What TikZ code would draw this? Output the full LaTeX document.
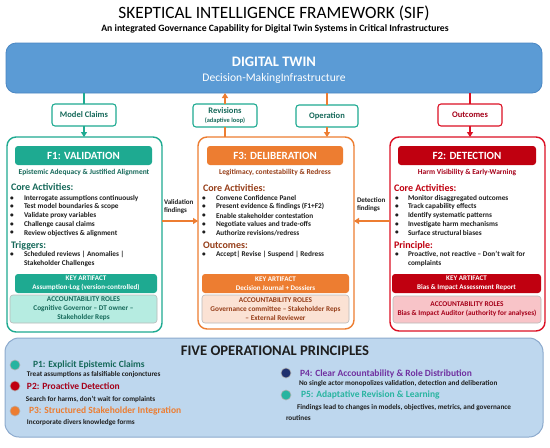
\documentclass[tikz,border=0pt]{standalone}
\usepackage{fontspec}
\setmainfont{Carlito}
\usetikzlibrary{arrows.meta}
\definecolor{dtblue}{RGB}{91,155,213}
\definecolor{dtborder}{RGB}{75,135,195}
\definecolor{teal1}{RGB}{30,170,145}
\definecolor{tealdk}{RGB}{22,105,90}
\definecolor{teallt}{RGB}{182,236,225}
\definecolor{orng}{RGB}{237,125,49}
\definecolor{orngdk}{RGB}{150,62,25}
\definecolor{ornglt}{RGB}{251,226,212}
\definecolor{redb}{RGB}{220,16,36}
\definecolor{redh}{RGB}{192,0,16}
\definecolor{reddk}{RGB}{165,0,25}
\definecolor{redlt}{RGB}{248,196,200}
\definecolor{panel}{RGB}{190,215,238}
\definecolor{panelb}{RGB}{140,170,205}
\definecolor{txt}{RGB}{30,30,30}
\definecolor{purp}{RGB}{112,48,160}
\definecolor{navy}{RGB}{31,48,110}
\definecolor{teal2}{RGB}{40,180,160}
\newcommand{\myfs}[2]{\fontsize{#1}{#2}\selectfont}
\begin{document}
\begin{tikzpicture}[x=1pt,y=-1pt,
  every node/.style={inner sep=0pt, outer sep=0pt},
  frame/.style={draw, fill=white, rounded corners=9pt, line width=1.4pt, anchor=north west},
  bar/.style={rounded corners=3pt, text=white, font=\myfs{11}{13}\bfseries, anchor=north west},
  lbl/.style={draw, fill=white, rounded corners=3pt, line width=1.1pt, font=\myfs{8.5}{10}\bfseries, align=center, text=tealdk},
  sub/.style={font=\myfs{7.5}{9}\bfseries},
  sec/.style={anchor=west, font=\myfs{10}{12}\bfseries},
  bl/.style={anchor=west, font=\myfs{7.3}{8.7}\bfseries, text=txt},
  dotc/.style={font=\myfs{7.3}{8.7}\bfseries, text=txt},
  art/.style={rounded corners=3pt, text=white, font=\myfs{7.1}{9}\bfseries, align=center, anchor=north west},
  acc/.style={draw=gray!55, line width=0.6pt, rounded corners=3pt, font=\myfs{7.3}{9}\bfseries, align=center, anchor=north west},
  conn/.style={line width=1.6pt},
  arr/.style={line width=1.6pt, -{Triangle[length=5pt,width=6pt]}},
  pc/.style={circle, draw=gray!60, line width=0.6pt, minimum size=10pt},
  pt/.style={anchor=west, font=\myfs{9.5}{11}\bfseries},
  pd/.style={anchor=west, font=\myfs{7.2}{8}\bfseries, text=txt}
]
\useasboundingbox (0,0) rectangle (550,448);
\fill[white] (0,0) rectangle (550,448);

% title
\node[font=\myfs{17.3}{20}] (title) at (274,13) {SKEPTICAL INTELLIGENCE FRAMEWORK (SIF)};
\node[font=\myfs{9.7}{11}\bfseries] (subtitle) at (275,29) {An integrated Governance Capability for Digital Twin Systems in Critical Infrastructures};

% digital twin
\node[draw=dtborder, fill=dtblue, rounded corners=10pt, line width=0.8pt, minimum width=536pt, minimum height=50pt, anchor=north west] (DT) at (6,43) {};
\node[font=\myfs{14.5}{16}\bfseries, text=white] (dtt) at (274,62) {DIGITAL TWIN};
\node[font=\myfs{11.6}{14}, text=white] (dts) at (274,78) {Decision-MakingInfrastructure};

% frames
\node[frame, draw=teal1, minimum width=155pt, minimum height=195pt] (F1) at (7,137) {};
\node[frame, draw=orng, minimum width=156pt, minimum height=192pt] (F3) at (198,137) {};
\node[frame, draw=redb, minimum width=155pt, minimum height=194pt] (F2) at (390,137) {};

% connector labels
\node[lbl, draw=teal1, minimum width=64pt, minimum height=22pt] (mc) at (84,115) {Model Claims};
\node[lbl, draw=teal1, minimum width=64pt, minimum height=23pt] (rev) at (225,115.5) {Revisions\\[-1pt]{\myfs{6.4}{8}(adaptive loop)}};
\node[lbl, draw=teal1, minimum width=62pt, minimum height=22pt] (op) at (327,116) {Operation};
\node[lbl, draw=redb, text=reddk, minimum width=64pt, minimum height=22pt] (out) at (470,115) {Outcomes};

\draw[conn, teal1] (DT.south -| mc.north) -- (mc.north);
\draw[arr, teal1] (mc.south) -- (mc.south |- F1.north);
\draw[conn, orng] (rev.south |- F3.north) -- (rev.south);
\draw[arr, orng] (rev.north) -- (rev.north |- DT.south);
\draw[conn, orng] (DT.south -| op.north) -- (op.north);
\draw[arr, orng] (op.south) -- (op.south |- F3.north);
\draw[conn, redb] (DT.south -| out.north) -- (out.north);
\draw[arr, redb] (out.south) -- (out.south |- F2.north);

% side arrows
\coordinate (fy) at (275,221);
\draw[arr, orng] (F1.east |- fy) -- (F3.west |- fy);
\draw[arr, orng] (F2.west |- fy) -- (F3.east |- fy);
\node[anchor=west, font=\myfs{7}{8}\bfseries, align=left, text=txt] (vfl) at (164,207) {Validation\\findings};
\node[anchor=west, font=\myfs{7}{8}\bfseries, align=left, text=txt] (dfl) at (357,205) {Detection\\findings};

% ---------- F1 ----------
\node[bar, fill=teal1, minimum width=137pt, minimum height=19pt] (F1h) at (15,146) {F1: VALIDATION};
\node[sub, text=tealdk] (F1s) at (84,172) {Epistemic Adequacy \& Justified Alignment};
\node[sec, text=tealdk] (F1c) at (11,187) {Core Activities:};
\node[dotc] (F1d1) at (12,198.3) {•}; \node[bl] (F1b1) at (24,198.3) {Interrogate assumptions continuously};
\node[dotc] (F1d2) at (12,206.8) {•}; \node[bl] (F1b2) at (24,206.8) {Test model boundaries \& scope};
\node[dotc] (F1d3) at (12,215.6) {•}; \node[bl] (F1b3) at (24,215.6) {Validate proxy variables};
\node[dotc] (F1d4) at (12,224.3) {•}; \node[bl] (F1b4) at (24,224.3) {Challenge causal claims};
\node[dotc] (F1d5) at (12,233.2) {•}; \node[bl] (F1b5) at (24,233.2) {Review objectives \& alignment};
\node[sec, text=tealdk] (F1t) at (11,245.5) {Triggers:};
\node[dotc] (F1d6) at (12,254.3) {•}; \node[bl] (F1b6) at (24,254.3) {Scheduled reviews | Anomalies |};
\node[bl] (F1b7) at (24,263.2) {Stakeholder Challenges};
\node[art, fill=teal1, minimum width=142pt, minimum height=19pt] (F1a) at (15,274) {KEY ARTIFACT\\Assumption-Log (version-controlled)};
\node[acc, fill=teallt, text=tealdk, minimum width=147pt, minimum height=28pt] (F1r) at (10,295) {ACCOUNTABILITY ROLES\\Cognitive Governor – DT owner –\\Stakeholder Reps};

% ---------- F3 ----------
\node[bar, fill=orng, minimum width=136pt, minimum height=19pt] (F3h) at (207,146) {F3: DELIBERATION};
\node[sub, text=orngdk] (F3s) at (275,172) {Legitimacy, contestability \& Redress};
\node[sec, text=orngdk] (F3c) at (203,188) {Core Activities:};
\node[dotc] (F3d1) at (204,198.3) {•}; \node[bl] (F3b1) at (216,198.3) {Convene Confidence Panel};
\node[dotc] (F3d2) at (204,206.8) {•}; \node[bl] (F3b2) at (216,206.8) {Present evidence \& findings (F1+F2)};
\node[dotc] (F3d3) at (204,215.6) {•}; \node[bl] (F3b3) at (216,215.6) {Enable stakeholder contestation};
\node[dotc] (F3d4) at (204,224.3) {•}; \node[bl] (F3b4) at (216,224.3) {Negotiate values and trade-offs};
\node[dotc] (F3d5) at (204,233.2) {•}; \node[bl] (F3b5) at (216,233.2) {Authorize revisions/redress};
\node[sec, text=orngdk] (F3o) at (203,245.5) {Outcomes:};
\node[dotc] (F3d6) at (204,254.3) {•}; \node[bl] (F3b6) at (216,254.3) {Accept| Revise | Suspend | Redress};
\node[art, fill=orng, minimum width=147pt, minimum height=19pt] (F3a) at (202,274) {KEY ARTIFACT\\Decision Journal + Dossiers};
\node[acc, fill=ornglt, text=orngdk, minimum width=147pt, minimum height=28pt] (F3r) at (202,295) {ACCOUNTABILITY ROLES\\Governance committee – Stakeholder Reps\\– External Reviewer};

% ---------- F2 ----------
\node[bar, fill=redh, minimum width=138pt, minimum height=19pt] (F2h) at (398,146) {F2: DETECTION};
\node[sub, text=reddk] (F2s) at (467,172) {Harm Visibility \& Early-Warning};
\node[sec, text=redh] (F2c) at (394,188) {Core Activities:};
\node[dotc] (F2d1) at (397,198.3) {•}; \node[bl] (F2b1) at (408,198.3) {Monitor disaggregated outcomes};
\node[dotc] (F2d2) at (397,206.8) {•}; \node[bl] (F2b2) at (408,206.8) {Track capability effects};
\node[dotc] (F2d3) at (397,215.6) {•}; \node[bl] (F2b3) at (408,215.6) {Identify systematic patterns};
\node[dotc] (F2d4) at (397,224.3) {•}; \node[bl] (F2b4) at (408,224.3) {Investigate harm mechanisms};
\node[dotc] (F2d5) at (397,233.2) {•}; \node[bl] (F2b5) at (408,233.2) {Surface structural biases};
\node[sec, text=redh] (F2p) at (394,245.5) {Principle:};
\node[dotc] (F2d6) at (397,254.3) {•}; \node[bl] (F2b6) at (408,254.3) {Proactive, not reactive – Don’t wait for};
\node[bl] (F2b7) at (408,263.2) {complaints};
\node[art, fill=redh, minimum width=149pt, minimum height=19pt] (F2a) at (392,274) {KEY ARTIFACT\\Bias \& Impact Assessment Report};
\node[acc, fill=redlt, text=reddk, minimum width=148pt, minimum height=27pt] (F2r) at (393,296) {ACCOUNTABILITY ROLES\\Bias \& Impact Auditor (authority for analyses)};

% ---------- principles panel ----------
\node[draw=panelb, fill=panel, rounded corners=14pt, line width=1pt, minimum width=538pt, minimum height=99pt, anchor=north west] (PP) at (5,338) {};
\node[font=\myfs{14.6}{16}\bfseries, text=txt] (PPt) at (275,351) {FIVE OPERATIONAL PRINCIPLES};

\node[pc, fill=teal2] (c1) at (15,365) {};
\node[pt, text=tealdk] (p1) at (33,365) {P1: Explicit Epistemic Claims};
\node[pd] (p1d) at (27,375) {Treat assumptions as falsifiable conjonctures};
\node[pc, fill=redh] (c2) at (15,386) {};
\node[pt, text=reddk] (p2) at (27,386.5) {P2: Proactive Detection};
\node[pd] (p2d) at (26,399) {Search for harms, don’t wait for complaints};
\node[pc, fill=orng] (c3) at (15,411) {};
\node[pt, text=orng] (p3) at (29,411) {P3: Structured Stakeholder Integration};
\node[pd] (p3d) at (27,423) {Incorporate divers knowledge forms};

\node[pc, fill=navy] (c4) at (286,373) {};
\node[pt, text=purp] (p4) at (300,374) {P4: Clear Accountability \& Role Distribution};
\node[pd] (p4d) at (299,384) {No single actor monopolizes validation, detection and deliberation};
\node[pc, fill=teal2] (c5) at (286,395) {};
\node[pt, text=teal2] (p5) at (301,395) {P5: Adaptative Revision \& Learning};
\node[pd] (p5d) at (297,408) {Findings lead to changes in models, objectives, metrics, and governance};
\node[pd] (p5e) at (286,417.5) {routines};
\end{tikzpicture}
\end{document}
